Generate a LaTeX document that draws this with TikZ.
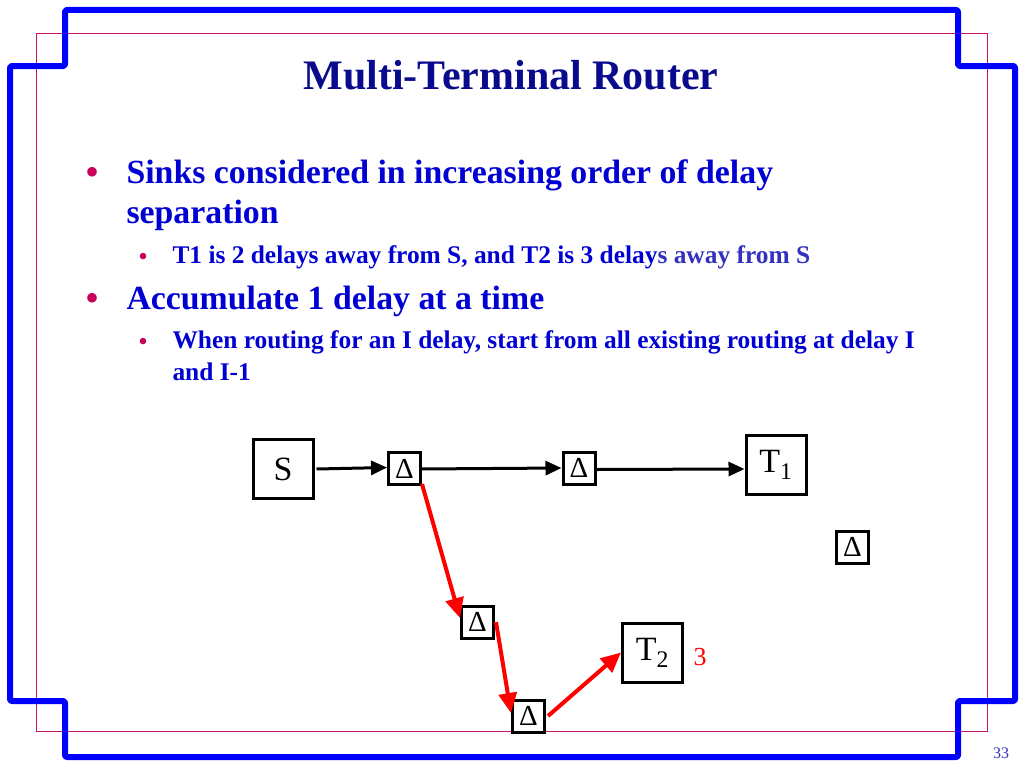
\documentclass[tikz,border=0pt]{standalone}
\usepackage{fontspec}
\setmainfont{Liberation Serif}
\usetikzlibrary{arrows.meta}
\definecolor{frameblue}{RGB}{0,0,255}
\definecolor{pinkline}{RGB}{204,20,100}
\definecolor{titleblue}{RGB}{10,10,140}
\definecolor{textblue}{RGB}{0,0,210}
\definecolor{softblue}{RGB}{50,50,190}
\definecolor{bulletred}{RGB}{200,0,90}
\definecolor{arrowred}{RGB}{255,0,0}
\begin{document}
\begin{tikzpicture}[x=1pt,y=-1pt,
  bigbox/.style={draw=black,line width=3pt,minimum width=60pt,minimum height=59pt,inner sep=0pt,font=\fontsize{34}{36}\selectfont},
  delbox/.style={draw=black,line width=3pt,minimum size=32pt,inner sep=0pt,font=\fontsize{29}{30}\selectfont},
  blackarrow/.style={line width=3pt,-{Triangle[length=16pt,width=14pt]}},
  redarrow/.style={draw=arrowred,line width=4pt,-{Triangle[length=20pt,width=18pt]}},
  mainbullet/.style={anchor=base,text=bulletred,font=\fontsize{40}{40}\selectfont},
  subbullet/.style={anchor=base,text=bulletred,font=\fontsize{27}{27}\selectfont},
  maintext/.style={anchor=base west,text=textblue,font=\fontsize{33.8}{36}\selectfont\bfseries},
  subtext/.style={anchor=base west,text=textblue,font=\fontsize{25.4}{27}\selectfont\bfseries}
]
\path[use as bounding box,fill=white] (0,0) rectangle (1024,768);
% frames
\draw[pinkline,line width=1pt] (36,34) rectangle (987,731);
\draw[frameblue,line width=6pt,rounded corners=2pt,line join=round]
  (65,10) -- (958,10) -- (958,66) -- (1015,66) -- (1015,701) -- (958,701)
  -- (958,757) -- (65,757) -- (65,701) -- (10,701) -- (10,66) -- (65,66) -- cycle;
% title
\node[anchor=base,text=titleblue,font=\fontsize{42}{44}\selectfont\bfseries] (title) at (511,89) {Multi-Terminal Router};
% bullets
\node[mainbullet] (b1) at (93,185) {•};
\node[maintext] (t1) at (123,183) {Sinks considered in increasing order of delay};
\node[maintext] (t1b) at (123,223) {separation};
\node[subbullet] (b2) at (143,265) {•};
\node[subtext] (t2) at (169,263) {T1 is 2 delays away from S, and T2 is 3 delay{\color{softblue}s away from S}};
\node[mainbullet] (b3) at (93,311) {•};
\node[maintext] (t3) at (123,309) {Accumulate 1 delay at a time};
\node[subbullet] (b4) at (143,350) {•};
\node[subtext] (t4) at (169,348) {When routing for an I delay, start from all existing routing at delay I};
\node[subtext] (t4b) at (169,380) {and I-1};
% diagram nodes
\node[bigbox] (S) at (283,469) {S};
\node[delbox] (D1) at (404.5,468.5) {Δ};
\node[delbox] (D2) at (579,468) {Δ};
\node[bigbox] (T1) at (776,465) {T\textsubscript{1}};
\node[delbox] (D5) at (852.5,547) {Δ};
\node[delbox] (D3) at (477.5,622) {Δ};
\node[delbox] (D4) at (528.5,716) {Δ};
\node[bigbox] (T2) at (652.5,652.5) {T\textsubscript{2}};
\node[anchor=base,text=arrowred,font=\fontsize{26}{28}\selectfont] (three) at (700,665) {3};
% connectors
\draw[blackarrow] ([xshift=2pt]S.east) -- ([yshift=1pt]D1.west);
\draw[blackarrow] ([xshift=-2pt,yshift=-0.5pt]D1.east) -- (D2.west);
\draw[blackarrow] ([yshift=-1.5pt]D2.east) -- ([yshift=-4pt]T1.west);
\draw[redarrow] ([yshift=2pt]D1.south east) -- ([yshift=4pt]D3.west);
\draw[redarrow] ([xshift=1pt]D3.east) -- ([yshift=3pt]D4.west);
\draw[redarrow] ([xshift=2pt]D4.east) -- (T2.west);
% page number
\node[anchor=base,text=softblue,font=\fontsize{16}{18}\selectfont] (page) at (1001,758) {33};
\end{tikzpicture}
\end{document}
